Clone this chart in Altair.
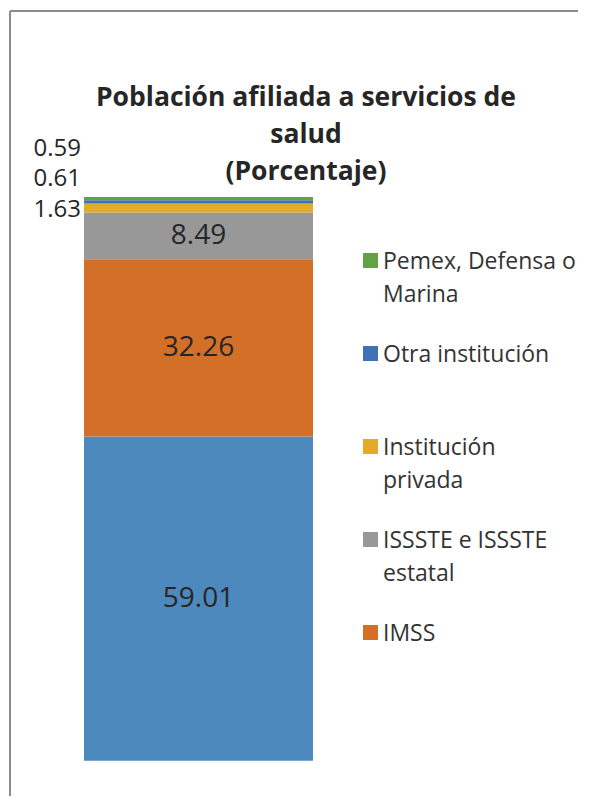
import altair as alt
import pandas as pd

# ---- data ----
categories = ["Seguro Popular", "IMSS", "ISSSTE e ISSSTE estatal",
              "Institución privada", "Otra institución", "Pemex, Defensa o Marina"]
values = [59.01, 32.26, 8.49, 1.63, 0.61, 0.59]
colors = ["#4E89BE", "#D46F28", "#989898", "#E2AB28", "#4170B8", "#63A244"]

legend_categories = ["Pemex, Defensa o Marina", "Otra institución",
                     "Institución privada", "ISSSTE e ISSSTE estatal", "IMSS"]
legend_labels = ["Pemex, Defensa o\nMarina", "Otra institución",
                 "Institución\nprivada", "ISSSTE e ISSSTE\nestatal", "IMSS"]
title_text = "Población  afiliada a servicios de\nsalud\n(Porcentaje)"

# ---- layout (style) ----
W, H = 570, 788
BAR_BOTTOM_PX, BAR_TOP_PX = 752.7, 189.0
FONT = "Open Sans"
TXT = "#262626"

total = sum(values)
k = (BAR_BOTTOM_PX - BAR_TOP_PX) / total
y_domain = [-(H - BAR_BOTTOM_PX) / k, BAR_BOTTOM_PX / k]

rows = []
cum = 0.0
for i, (c, v) in enumerate(zip(categories, values)):
    rows.append(dict(cat=c, value=v, start=cum, end=cum + v, mid=cum + v / 2,
                     top=total, label=f"{v:.2f}", grp="total", idx=i))
    cum += v
df = pd.DataFrame(rows)

color_scale = alt.Scale(domain=categories, range=colors)
x_scale = alt.Scale(range=[76, 305], paddingInner=0, paddingOuter=0)
x_enc = alt.X("grp:N", scale=x_scale, axis=None)
y_scale = alt.Scale(domain=y_domain, nice=False, zero=False)

base = alt.Chart(df)

bars = base.mark_bar().encode(
    x=x_enc,
    y=alt.Y("start:Q", scale=y_scale, axis=None),
    y2="end:Q",
    color=alt.Color("cat:N", scale=color_scale, legend=None),
)

inside = base.transform_filter(alt.datum.value > 5).mark_text(
    font=FONT, fontSize=28, color=TXT, baseline="middle"
).encode(x=x_enc, y=alt.Y("mid:Q", scale=y_scale, axis=None), text="label:N")

outside_layers = []
for cat, dy in [("Institución privada", 13), ("Otra institución", -18),
                ("Pemex, Defensa o Marina", -48)]:
    outside_layers.append(
        base.transform_filter(alt.datum.cat == cat).mark_text(
            font=FONT, fontSize=24, color=TXT, baseline="middle", align="right", dx=-3, dy=dy
        ).encode(
            x=alt.X("grp:N", bandPosition=0, scale=x_scale, axis=None),
            y=alt.Y("top:Q", scale=y_scale, axis=None),
            text="label:N",
        )
    )

main = alt.layer(bars, inside, *outside_layers)

ldf = pd.DataFrame({"cat": legend_categories, "lab": legend_labels})
ly = alt.Y("cat:N", scale=alt.Scale(type="point", domain=legend_categories,
                                    range=[252.5, 624.5], padding=0), axis=None)
leg_sym = alt.Chart(ldf).mark_square(size=225, opacity=1).encode(
    x=alt.value(362.5), y=ly,
    color=alt.Color("cat:N", scale=color_scale, legend=None),
)
leg_txt = alt.Chart(ldf).mark_text(
    font=FONT, fontSize=23, color="#333333", align="left", baseline="alphabetic",
    dy=8.5, lineBreak="\n", lineHeight=33,
).encode(x=alt.value(375), y=ly, text="lab:N")
legend = alt.layer(leg_sym, leg_txt)

tdf = pd.DataFrame({"t": [title_text]})
title = alt.Chart(tdf).mark_text(
    font=FONT, fontWeight="bold", fontSize=26.5, color=TXT, align="center",
    baseline="alphabetic", lineBreak="\n", lineHeight=37,
).encode(x=alt.value(298), y=alt.value(98), text="t:N")

one = pd.DataFrame({"a": [0]})
frame_left = alt.Chart(one).mark_rule(color="#8C8C8C", strokeWidth=2).encode(
    x=alt.value(2), y=alt.value(3), y2=alt.value(H))
frame_top = alt.Chart(one).mark_rule(color="#8C8C8C", strokeWidth=2).encode(
    x=alt.value(2), x2=alt.value(W + 20), y=alt.value(3))

chart = alt.layer(main, legend, title, frame_left, frame_top).resolve_scale(
    y="independent"
).properties(
    width=W, height=H, autosize=alt.AutoSizeParams(type="none"), padding=0,
    background="white",
).configure_view(stroke=None)

chart.save("out.html", embed_options={"renderer": "svg", "actions": False})
